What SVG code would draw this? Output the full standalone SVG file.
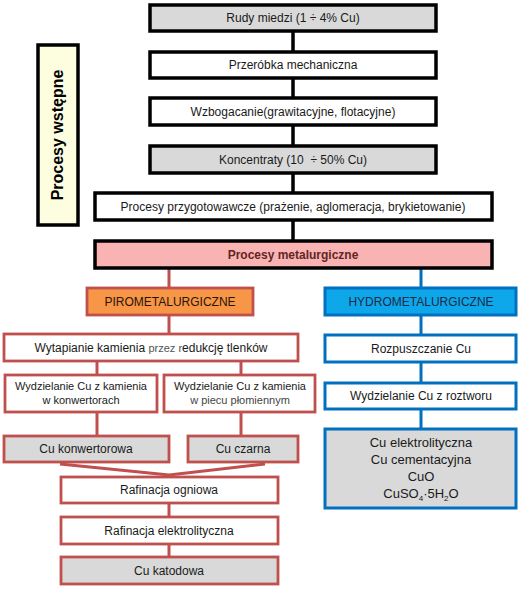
<svg xmlns="http://www.w3.org/2000/svg" width="520" height="590" viewBox="0 0 520 590">
<style>
text{font-family:"Liberation Sans",Arial,sans-serif;font-size:12px;fill:#1a1a1a;text-anchor:middle}
.bk{stroke:#000;stroke-width:3.5}
.rd{stroke:#c0504d;stroke-width:2.8}
.bl{stroke:#0070c0;stroke-width:3}
.w{fill:#fff}
.g{fill:#d9d9d9}
.cb{stroke:#000;stroke-width:3.5;fill:none}
.cr{stroke:#c0504d;stroke-width:3;fill:none}
.cbl{stroke:#0070c0;stroke-width:3;fill:none}
</style>
<rect width="520" height="590" fill="#fff"/>
<g id="connectors">
<line class="cb" x1="293" y1="31" x2="293" y2="242"/>
<path class="cr" d="M169 268V288M169 315V334M97 361V375M241 361V375M97 412V436M241 412V436M169 503V517M169 544V557"/>
<path class="cr" d="M60 464L169 475L265 464" stroke-linejoin="miter"/>
<path class="cbl" d="M421 268V288M421 315V335M421 362V383M421 409V429"/>
</g>
<g id="side">
<rect x="38" y="45" width="40" height="180" fill="#fdfde0" stroke="#000" stroke-width="3.5"/>
<text transform="translate(63,135) rotate(-90)" style="font-size:16px;font-weight:bold;fill:#000">Procesy wstępne</text>
</g>
<g id="n1"><rect class="bk g" x="150" y="5" width="286" height="26"/><text x="293" y="22">Rudy miedzi (1 ÷ 4% Cu)</text></g>
<g id="n2"><rect class="bk w" x="150" y="52" width="286" height="26"/><text x="293" y="69">Przeróbka mechaniczna</text></g>
<g id="n3"><rect class="bk w" x="150" y="98" width="286" height="27"/><text x="293" y="116">Wzbogacanie(grawitacyjne, flotacyjne)</text></g>
<g id="n4"><rect class="bk g" x="150" y="146" width="286" height="27"/><text x="293" y="164">Koncentraty (10&#160; ÷ 50% Cu)</text></g>
<g id="n5"><rect class="bk w" x="95" y="193" width="397" height="27"/><text x="293" y="211">Procesy przygotowawcze (prażenie, aglomeracja, brykietowanie)</text></g>
<g id="n6"><rect class="bk" fill="#f9b3b3" x="95" y="241" width="397" height="27"/><text x="293" y="259" style="fill:#632523;font-weight:bold">Procesy metalurgiczne</text></g>
<g id="piro"><rect class="rd" fill="#f79646" x="87" y="288" width="166" height="27"/><text x="170" y="306" style="fill:#2a1408">PIROMETALURGICZNE</text></g>
<g id="hydro"><rect class="bl" fill="#0ea8ea" x="325" y="288" width="191" height="27"/><text x="421" y="306" style="fill:#1a2a48">HYDROMETALURGICZNE</text></g>
<g id="p1"><rect class="rd w" x="4" y="334" width="294" height="27"/><text x="151" y="352">Wytapianie kamienia <tspan style="font-size:11px;fill:#555">przez r</tspan>edukcję tlenków</text></g>
<g id="p2"><rect class="rd w" x="5" y="375" width="152" height="37"/><text x="81" y="390" style="font-size:11px">Wydzielanie Cu z kamienia</text><text x="81" y="404" style="font-size:11px">w konwertorach</text></g>
<g id="p3"><rect class="rd w" x="164" y="375" width="151" height="37"/><text x="240" y="390" style="font-size:11px">Wydzielanie Cu z kamienia</text><text x="240" y="404" style="font-size:11px;fill:#444">w piecu płomiennym</text></g>
<g id="p4"><rect class="rd g" x="4" y="436" width="165" height="26"/><text x="86" y="453">Cu konwertorowa</text></g>
<g id="p5"><rect class="rd g" x="188" y="436" width="110" height="26"/><text x="243" y="453">Cu czarna</text></g>
<g id="p6"><rect class="rd w" x="61" y="477" width="217" height="26"/><text x="169" y="494">Rafinacja ogniowa</text></g>
<g id="p7"><rect class="rd w" x="61" y="517" width="217" height="27"/><text x="169" y="535">Rafinacja elektrolityczna</text></g>
<g id="p8"><rect class="rd g" x="61" y="557" width="217" height="27"/><text x="169" y="575">Cu katodowa</text></g>
<g id="h1"><rect class="bl w" x="325" y="335" width="191" height="27"/><text x="421" y="353">Rozpuszczanie Cu</text></g>
<g id="h2"><rect class="bl w" x="325" y="383" width="191" height="26"/><text x="421" y="400">Wydzielanie Cu z roztworu</text></g>
<g id="h3"><rect class="bl g" x="325" y="429" width="191" height="79"/>
<text x="421" y="447" style="font-size:13px">Cu elektrolityczna</text>
<text x="421" y="464" style="font-size:13px">Cu cementacyjna</text>
<text x="421" y="481" style="font-size:13px">CuO</text>
<text x="421" y="498" style="font-size:13px">CuSO<tspan style="font-size:8px" dy="3">4</tspan><tspan dy="-3">·5H</tspan><tspan style="font-size:8px" dy="3">2</tspan><tspan dy="-3">O</tspan></text>
</g>
</svg>
